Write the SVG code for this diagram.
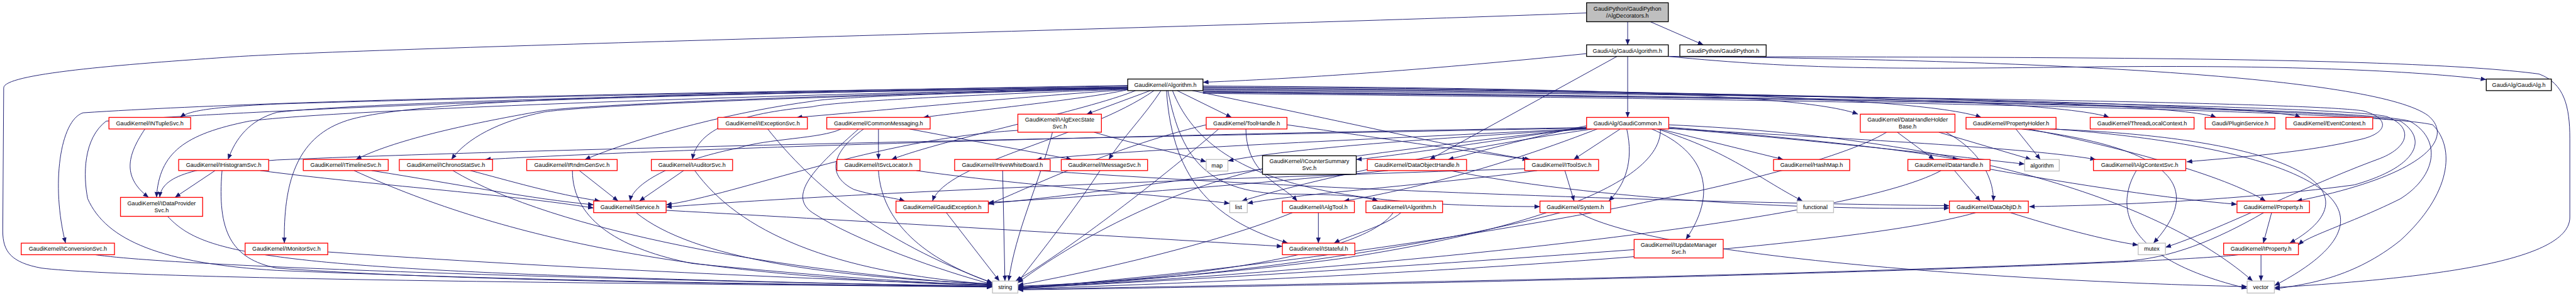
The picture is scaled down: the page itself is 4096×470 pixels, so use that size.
<svg xmlns="http://www.w3.org/2000/svg" width="4096" height="470" viewBox="0 0 4096 470">
<style>
.e{fill:none;stroke:#191970;stroke-width:1.3;marker-end:url(#a)}
.n rect{fill:#ffffff;stroke-width:1.8}
.r rect{stroke:#ff0000}
.k rect{stroke:#000000}
.g rect{stroke:#bfbfbf}
.root rect{fill:#bfbfbf;stroke:#000000}
text{font-family:"Liberation Sans",Arial,sans-serif;font-size:12.4px;fill:#000000;text-anchor:middle}
</style>
<defs>
<marker id="a" markerUnits="userSpaceOnUse" markerWidth="12" markerHeight="10" refX="12" refY="5" viewBox="0 0 12 10" orient="auto"><path d="M0,0 L12,5 L0,10 z" fill="#191970"/></marker>
</defs>
<rect x="0" y="0" width="4096" height="470" fill="#ffffff"/>
<g transform="scale(0.734)">
<g id="edges">
<path class="e" d="M3526,47 L3526,97"/>
<path class="e" d="M3575,47 L3690,97"/>
<path class="e" d="M3437,28 C2600,60 900,100 520,122 C250,140 8,160 8,190 L6,500 C6,545 25,568 90,580 C300,606 1500,614 2150,621"/>
<path class="e" d="M3437,116 C3100,150 2850,168 2606,178"/>
<path class="e" d="M3526,122 L3526,254"/>
<path class="e" d="M3503,122 L3097,345"/>
<path class="e" d="M3614,122 C3900,150 4100,150 4500,145 C4900,140 5200,150 5386,172"/>
<path class="e" d="M3614,122 C4300,125 5200,120 5500,160 C5555,180 5567,230 5567,300 L5567,470 C5567,560 5300,600 4927,622"/>
<path class="e" d="M3614,122 C4500,130 5150,170 5260,250 C5320,300 5250,380 4975,435"/>
<path class="e" d="M2443,185 C1800,195 900,215 600,225 C450,232 410,240 390,254"/>
<path class="e" d="M2443,186 C1800,196 700,210 180,244 C130,260 110,400 142,526"/>
<path class="e" d="M2443,190 C1600,205 700,240 540,262 C400,290 345,330 339,427"/>
<path class="e" d="M2443,190 C1600,200 800,220 600,243 C540,260 510,300 494,345"/>
<path class="e" d="M2443,188 C1800,198 900,205 745,263 C640,300 614,400 616,526"/>
<path class="e" d="M2443,190 C1800,205 1300,225 1180,239 C1000,270 850,305 771,345"/>
<path class="e" d="M2443,191 C1900,205 1300,225 1180,242 C1080,262 1010,300 978,345"/>
<path class="e" d="M2443,192 C2100,200 1800,210 1760,219 C1600,240 1400,290 1267,345"/>
<path class="e" d="M2443,193 C2100,205 1800,220 1760,231 C1600,245 1510,280 1500,345"/>
<path class="e" d="M2443,194 C2200,210 1900,240 1726,254"/>
<path class="e" d="M2443,194 C2350,215 2100,240 2000,254"/>
<path class="e" d="M2460,196 C2350,240 2050,300 1931,345"/>
<path class="e" d="M2500,196 C2350,300 2050,350 2020,435"/>
<path class="e" d="M2443,189 C1500,200 700,230 230,262 C180,300 180,380 190,430 C230,520 350,570 600,585 C1200,610 1800,616 2150,620"/>
<path class="e" d="M2492,196 L2354,247"/>
<path class="e" d="M2515,196 C2480,250 2430,300 2402,345"/>
<path class="e" d="M2527,196 C2540,400 2640,480 2790,526"/>
<path class="e" d="M2530,196 C2560,350 2620,420 2800,420 C2900,420 2960,425 2985,435"/>
<path class="e" d="M2550,196 L2668,254"/>
<path class="e" d="M2583,196 C2900,260 3200,330 3315,345"/>
<path class="e" d="M2370,286 C2450,310 2550,330 2613,350"/>
<path class="e" d="M2606,186 C3300,190 3900,200 4025,247"/>
<path class="e" d="M2606,188 C3400,192 4150,205 4292,254"/>
<path class="e" d="M2606,190 C3500,195 4450,210 4569,254"/>
<path class="e" d="M2606,192 C3600,197 4700,215 4801,254"/>
<path class="e" d="M2606,194 C3700,200 4900,220 4984,254"/>
<path class="e" d="M2606,196 C3800,205 5000,220 5120,240 C5175,255 5175,285 5120,300 C5000,330 4850,340 4737,350"/>
<path class="e" d="M2606,198 C3800,210 5050,225 5170,252 C5230,275 5220,320 5150,345 C5000,400 4800,500 4691,535"/>
<path class="e" d="M2606,200 C3900,212 5100,230 5220,262 C5290,300 5280,380 5200,430 C5100,480 5000,510 4979,530"/>
<path class="e" d="M2606,202 C4000,215 5150,240 5270,270 C5320,320 5310,420 5200,520 C5100,600 5000,615 4927,625"/>
<path class="e" d="M2606,199 C3900,210 5100,235 5200,262 C5260,300 5240,360 5100,400 C4800,440 4500,445 4396,447"/>
<path class="e" d="M2540,196 C2620,400 2900,445 3336,447"/>
<path class="e" d="M3524,279 C3540,350 3520,400 3485,435"/>
<path class="e" d="M3578,279 C3700,330 3720,420 3652,518"/>
<path class="e" d="M3590,279 C3750,330 3800,380 3905,435"/>
<path class="e" d="M3595,279 L3863,345"/>
<path class="e" d="M3437,272 C3300,300 3200,330 3137,345"/>
<path class="e" d="M3510,279 L3409,345"/>
<path class="e" d="M3437,275 C3200,310 3000,340 2938,345"/>
<path class="e" d="M3437,278 C3000,320 2400,420 2141,440"/>
<path class="e" d="M3437,276 C2500,290 1500,320 1051,345"/>
<path class="e" d="M3437,277 C2500,295 1200,320 600,346 C420,360 350,380 346,427"/>
<path class="e" d="M3437,278 C3000,300 2500,320 2245,345"/>
<path class="e" d="M3450,279 C3100,330 2800,400 2690,435"/>
<path class="e" d="M3597,279 C3600,400 3300,500 2900,560 C2600,600 2300,615 2205,621"/>
<path class="e" d="M3615,270 C4300,300 4700,450 4880,608"/>
<path class="e" d="M3460,279 C3200,380 3000,420 2911,435"/>
<path class="e" d="M3437,279 C3100,300 2800,320 2660,348"/>
<path class="e" d="M3615,275 C3900,300 4100,320 4242,345"/>
<path class="e" d="M3615,277 C4000,310 4250,340 4386,355"/>
<path class="e" d="M3615,278 C4000,300 4400,320 4540,345"/>
<path class="e" d="M2699,279 C2700,380 2780,400 2810,435"/>
<path class="e" d="M2788,270 C3000,300 3200,330 3310,345"/>
<path class="e" d="M2613,270 C2400,320 2200,420 2141,442"/>
<path class="e" d="M2640,279 C2500,400 2300,550 2200,608"/>
<path class="e" d="M2205,282 C1900,300 1600,420 1443,443"/>
<path class="e" d="M2280,286 C2250,400 2200,500 2185,608"/>
<path class="e" d="M1903,279 L1903,345"/>
<path class="e" d="M1970,279 L2322,345"/>
<path class="e" d="M1871,279 C1800,330 1790,380 1850,410 C1900,425 1940,428 1960,435"/>
<path class="e" d="M1822,279 C1780,300 1660,300 1600,320 C1450,350 1370,400 1365,435"/>
<path class="e" d="M1860,279 C1780,350 1700,420 1760,460 C1850,520 2050,590 2150,615"/>
<path class="e" d="M1903,369 C1910,480 2000,560 2150,612"/>
<path class="e" d="M1985,369 C2200,400 2500,420 2664,440"/>
<path class="e" d="M2172,369 L2177,608"/>
<path class="e" d="M2250,369 C3000,420 3800,440 4223,445"/>
<path class="e" d="M2383,369 C2330,450 2260,540 2205,610"/>
<path class="e" d="M2050,460 L2165,608"/>
<path class="e" d="M1663,279 C1760,400 1900,520 2150,612"/>
<path class="e" d="M363,468 C450,560 600,590 2150,620"/>
<path class="e" d="M466,369 L379,427"/>
<path class="e" d="M481,369 C470,500 500,560 600,580 C1000,610 1800,617 2150,620"/>
<path class="e" d="M564,369 C800,400 1100,420 1286,450"/>
<path class="e" d="M314,279 C280,330 260,380 322,427"/>
<path class="e" d="M206,551 C400,580 1500,610 2150,619"/>
<path class="e" d="M710,545 C1200,580 1800,605 2150,617"/>
<path class="e" d="M767,369 C1100,520 1500,600 2150,618"/>
<path class="e" d="M805,369 C1000,400 1150,430 1286,443"/>
<path class="e" d="M981,369 C1200,500 1700,590 2150,616"/>
<path class="e" d="M1019,369 C1100,390 1200,420 1300,435"/>
<path class="e" d="M1255,369 L1339,435"/>
<path class="e" d="M1240,369 C1240,480 1350,540 1500,570 C1800,600 2000,612 2150,617"/>
<path class="e" d="M1481,369 L1385,435"/>
<path class="e" d="M1505,369 C1600,500 1800,590 2150,615"/>
<path class="e" d="M1378,460 C1500,560 1800,600 2150,614"/>
<path class="e" d="M1443,455 C1900,480 2400,510 2778,533"/>
<path class="e" d="M2856,460 L2856,526"/>
<path class="e" d="M2800,460 C2600,540 2300,600 2205,617"/>
<path class="e" d="M3035,460 C3000,490 2920,510 2890,526"/>
<path class="e" d="M3018,460 C2950,560 2500,610 2205,619"/>
<path class="e" d="M3380,460 C3150,520 2700,600 2205,622"/>
<path class="e" d="M3420,460 C3600,560 4400,610 4868,620"/>
<path class="e" d="M3390,369 L3410,435"/>
<path class="e" d="M3330,369 C3100,400 2800,420 2702,440"/>
<path class="e" d="M3303,365 C2500,390 1800,420 1443,448"/>
<path class="e" d="M2735,365 C2500,420 2300,540 2205,612"/>
<path class="e" d="M3141,369 C3500,440 4000,455 4223,450"/>
<path class="e" d="M3007,369 C2700,400 2300,430 2141,438"/>
<path class="e" d="M3540,540 C3000,580 2500,610 2205,623"/>
<path class="e" d="M4110,286 L4190,345"/>
<path class="e" d="M4200,286 L4400,345"/>
<path class="e" d="M4215,286 C4300,330 4320,400 4318,435"/>
<path class="e" d="M4087,286 C3900,400 3000,560 2205,624"/>
<path class="e" d="M4367,279 L4420,345"/>
<path class="e" d="M4395,279 C4600,320 4820,380 4908,435"/>
<path class="e" d="M4440,279 C5000,300 5150,420 4960,526"/>
<path class="e" d="M4380,279 C4700,320 4780,400 4665,526"/>
<path class="e" d="M4450,279 C5000,320 5250,450 4927,618"/>
<path class="e" d="M4234,369 L4290,435"/>
<path class="e" d="M4205,369 C4000,480 3000,580 2205,624"/>
<path class="e" d="M4311,366 C4500,400 4700,430 4846,442"/>
<path class="e" d="M4355,460 C4450,490 4560,520 4632,530"/>
<path class="e" d="M4280,460 C4000,540 3000,600 2205,625"/>
<path class="e" d="M4628,369 C4580,450 4600,560 4868,624"/>
<path class="e" d="M4921,460 L4903,526"/>
<path class="e" d="M4904,460 C4800,520 4700,560 4600,565 C3800,600 2800,615 2205,626"/>
<path class="e" d="M4898,551 L4898,608"/>
<path class="e" d="M4850,551 C4700,570 3500,610 2205,627"/>
</g>
<g id="n1" class="n root"><rect x="3437" y="6" width="177" height="41"/><text x="3525.5" y="22.5">GaudiPython/GaudiPython</text><text x="3525.5" y="37.5">/AlgDecorators.h</text></g>
<g id="n2" class="n k"><rect x="3437" y="97" width="177" height="25"/><text x="3525.5" y="113.9">GaudiAlg/GaudiAlgorithm.h</text></g>
<g id="n3" class="n k"><rect x="3639" y="97" width="187" height="25"/><text x="3732.5" y="113.9">GaudiPython/GaudiPython.h</text></g>
<g id="n4" class="n k"><rect x="2443" y="171" width="163" height="25"/><text x="2524.5" y="187.9">GaudiKernel/Algorithm.h</text></g>
<g id="n5" class="n k"><rect x="5386" y="171" width="141" height="25"/><text x="5456.5" y="187.9">GaudiAlg/GaudiAlg.h</text></g>
<g id="n6" class="n r"><rect x="236" y="254" width="177" height="25"/><text x="324.5" y="270.9">GaudiKernel/INTupleSvc.h</text></g>
<g id="n7" class="n r"><rect x="1555" y="254" width="194" height="25"/><text x="1652" y="270.9">GaudiKernel/IExceptionSvc.h</text></g>
<g id="n8" class="n r"><rect x="1791" y="254" width="224" height="25"/><text x="1903" y="270.9">GaudiKernel/CommonMessaging.h</text></g>
<g id="n9" class="n r"><rect x="2205" y="247" width="181" height="39"/><text x="2295.5" y="262.5">GaudiKernel/IAlgExecState</text><text x="2295.5" y="277.5">Svc.h</text></g>
<g id="n10" class="n r"><rect x="2613" y="254" width="175" height="25"/><text x="2700.5" y="270.9">GaudiKernel/ToolHandle.h</text></g>
<g id="n11" class="n r"><rect x="3437" y="254" width="178" height="25"/><text x="3526" y="270.9">GaudiAlg/GaudiCommon.h</text></g>
<g id="n12" class="n r"><rect x="4030" y="247" width="205" height="39"/><text x="4132.5" y="262.5">GaudiKernel/DataHandleHolder</text><text x="4132.5" y="277.5">Base.h</text></g>
<g id="n13" class="n r"><rect x="4259" y="254" width="195" height="25"/><text x="4356.5" y="270.9">GaudiKernel/PropertyHolder.h</text></g>
<g id="n14" class="n r"><rect x="4528" y="254" width="225" height="25"/><text x="4640.5" y="270.9">GaudiKernel/ThreadLocalContext.h</text></g>
<g id="n15" class="n r"><rect x="4777" y="254" width="151" height="25"/><text x="4852.5" y="270.9">Gaudi/PluginService.h</text></g>
<g id="n16" class="n r"><rect x="4952" y="254" width="188" height="25"/><text x="5046" y="270.9">GaudiKernel/EventContext.h</text></g>
<g id="n17" class="n r"><rect x="387" y="345" width="195" height="24"/><text x="484.5" y="361.4">GaudiKernel/IHistogramSvc.h</text></g>
<g id="n18" class="n r"><rect x="657" y="345" width="184" height="24"/><text x="749" y="361.4">GaudiKernel/ITimelineSvc.h</text></g>
<g id="n19" class="n r"><rect x="865" y="345" width="202" height="24"/><text x="966" y="361.4">GaudiKernel/IChronoStatSvc.h</text></g>
<g id="n20" class="n r"><rect x="1141" y="345" width="196" height="24"/><text x="1239" y="361.4">GaudiKernel/IRndmGenSvc.h</text></g>
<g id="n21" class="n r"><rect x="1411" y="345" width="176" height="24"/><text x="1499" y="361.4">GaudiKernel/IAuditorSvc.h</text></g>
<g id="n22" class="n r"><rect x="1813" y="345" width="180" height="24"/><text x="1903" y="361.4">GaudiKernel/ISvcLocator.h</text></g>
<g id="n23" class="n r"><rect x="2068" y="345" width="207" height="24"/><text x="2171.5" y="361.4">GaudiKernel/IHiveWhiteBoard.h</text></g>
<g id="n24" class="n r"><rect x="2299" y="345" width="187" height="24"/><text x="2392.5" y="361.4">GaudiKernel/IMessageSvc.h</text></g>
<g id="n25" class="n g"><rect x="2613" y="345" width="47" height="25"/><text x="2636.5" y="361.9">map</text></g>
<g id="n26" class="n k"><rect x="2735" y="337" width="203" height="40"/><text x="2836.5" y="353">GaudiKernel/ICounterSummary</text><text x="2836.5" y="368">Svc.h</text></g>
<g id="n27" class="n r"><rect x="2962" y="345" width="215" height="24"/><text x="3069.5" y="361.4">GaudiKernel/DataObjectHandle.h</text></g>
<g id="n28" class="n r"><rect x="3303" y="345" width="160" height="24"/><text x="3383" y="361.4">GaudiKernel/IToolSvc.h</text></g>
<g id="n29" class="n r"><rect x="3842" y="345" width="165" height="24"/><text x="3924.5" y="361.4">GaudiKernel/HashMap.h</text></g>
<g id="n30" class="n r"><rect x="4133" y="345" width="178" height="24"/><text x="4222" y="361.4">GaudiKernel/DataHandle.h</text></g>
<g id="n31" class="n g"><rect x="4386" y="345" width="75" height="25"/><text x="4423.5" y="361.9">algorithm</text></g>
<g id="n32" class="n r"><rect x="4535" y="345" width="200" height="24"/><text x="4635" y="361.4">GaudiKernel/IAlgContextSvc.h</text></g>
<g id="n33" class="n r"><rect x="261" y="427" width="178" height="41"/><text x="350" y="443.5">GaudiKernel/IDataProvider</text><text x="350" y="458.5">Svc.h</text></g>
<g id="n34" class="n r"><rect x="1286" y="435" width="157" height="25"/><text x="1364.5" y="451.9">GaudiKernel/IService.h</text></g>
<g id="n35" class="n r"><rect x="1941" y="435" width="200" height="25"/><text x="2041" y="451.9">GaudiKernel/GaudiException.h</text></g>
<g id="n36" class="n g"><rect x="2664" y="435" width="38" height="25"/><text x="2683" y="451.9">list</text></g>
<g id="n37" class="n r"><rect x="2778" y="435" width="156" height="25"/><text x="2856" y="451.9">GaudiKernel/IAlgTool.h</text></g>
<g id="n38" class="n r"><rect x="2959" y="435" width="166" height="25"/><text x="3042" y="451.9">GaudiKernel/IAlgorithm.h</text></g>
<g id="n39" class="n r"><rect x="3336" y="435" width="153" height="25"/><text x="3412.5" y="451.9">GaudiKernel/System.h</text></g>
<g id="n40" class="n g"><rect x="3893" y="435" width="79" height="25"/><text x="3932.5" y="451.9">functional</text></g>
<g id="n41" class="n r"><rect x="4223" y="435" width="171" height="25"/><text x="4308.5" y="451.9">GaudiKernel/DataObjID.h</text></g>
<g id="n42" class="n r"><rect x="4846" y="435" width="157" height="25"/><text x="4924.5" y="451.9">GaudiKernel/Property.h</text></g>
<g id="n43" class="n r"><rect x="46" y="526" width="202" height="25"/><text x="147" y="542.9">GaudiKernel/IConversionSvc.h</text></g>
<g id="n44" class="n r"><rect x="531" y="526" width="179" height="25"/><text x="620.5" y="542.9">GaudiKernel/IMonitorSvc.h</text></g>
<g id="n45" class="n r"><rect x="2778" y="526" width="157" height="25"/><text x="2856.5" y="542.9">GaudiKernel/IStateful.h</text></g>
<g id="n46" class="n r"><rect x="3540" y="518" width="193" height="40"/><text x="3636.5" y="534">GaudiKernel/IUpdateManager</text><text x="3636.5" y="549">Svc.h</text></g>
<g id="n47" class="n g"><rect x="4632" y="526" width="59" height="25"/><text x="4661.5" y="542.9">mutex</text></g>
<g id="n48" class="n r"><rect x="4817" y="526" width="162" height="25"/><text x="4898" y="542.9">GaudiKernel/IProperty.h</text></g>
<g id="n49" class="n g"><rect x="2150" y="608" width="55" height="26"/><text x="2177.5" y="625.4">string</text></g>
<g id="n50" class="n g"><rect x="4868" y="608" width="59" height="26"/><text x="4897.5" y="625.4">vector</text></g>
</g>
</svg>
